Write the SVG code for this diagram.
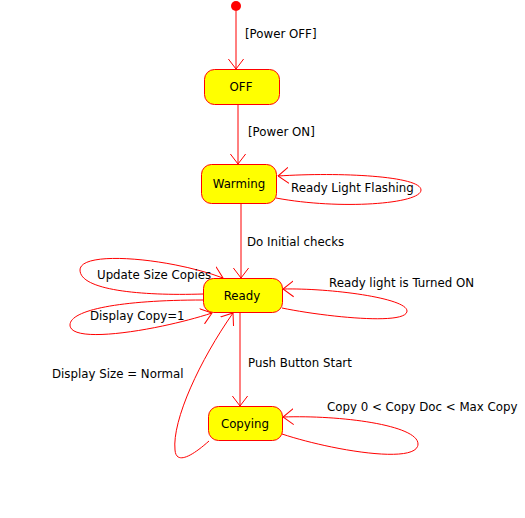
<svg xmlns="http://www.w3.org/2000/svg" width="525" height="518" viewBox="0 0 525 518">
<style>
.node{fill:#ffff00;stroke:#ff0000;stroke-width:1}
.edge{fill:none;stroke:#ff0000;stroke-width:1}
text{font-family:"DejaVu Sans",sans-serif;font-size:11.8px;fill:#000}
.c{text-anchor:middle}
</style>
<defs>
<marker id="arr" markerUnits="userSpaceOnUse" viewBox="0 0 11 18" refX="10.5" refY="9" markerWidth="11" markerHeight="18" orient="auto">
<path d="M0,1 L10.5,9 L0,17" fill="none" stroke="#ff0000" stroke-width="1"/>
</marker>
</defs>
<rect width="525" height="518" fill="#fff"/>
<g id="connectors">
<path class="edge" d="M236,11 L236,69" marker-end="url(#arr)"/>
<path class="edge" d="M238,104 L238,164" marker-end="url(#arr)"/>
<path class="edge" d="M276,198 C340,210 421,204 421,190 C421,176 340,172 278,176" marker-end="url(#arr)"/>
<path class="edge" d="M241,203 L241,278" marker-end="url(#arr)"/>
<path class="edge" d="M282,308 C320,316 407,326 407,311 C407,298 330,288 283,289" marker-end="url(#arr)"/>
<path class="edge" d="M203,294 C140,296 80,290 80,270 C80,250 170,258 223,278" marker-end="url(#arr)"/>
<path class="edge" d="M203,300 C120,300 70,310 70,325 C70,345 160,330 212,313" marker-end="url(#arr)"/>
<path class="edge" d="M240,312 L240,406" marker-end="url(#arr)"/>
<path class="edge" d="M209,441 C190,458 176,464 175,450 C172,420 200,360 233,313" marker-end="url(#arr)"/>
<path class="edge" d="M282,434 C330,450 418,465 418,444 C418,425 340,415 283,417" marker-end="url(#arr)"/>
<text x="245" y="38">[Power OFF]</text>
<text x="248" y="136">[Power ON]</text>
<text x="291" y="192">Ready Light Flashing</text>
<text x="247" y="246">Do Initial checks</text>
<text x="329" y="287">Ready light is Turned ON</text>
<text x="97" y="279">Update Size Copies</text>
<text x="90" y="320">Display Copy=1</text>
<text x="52" y="378">Display Size = Normal</text>
<text x="248" y="367">Push Button Start</text>
<text x="327" y="411">Copy 0 &lt; Copy Doc &lt; Max Copy</text>
</g>
<g id="initial"><circle cx="236" cy="6" r="5" fill="#ff0000"/></g>
<g id="off"><rect class="node" x="204.5" y="69.5" width="75" height="35" rx="10"/><text class="c" x="241" y="91">OFF</text></g>
<g id="warming"><rect class="node" x="201.5" y="164.5" width="75" height="39" rx="10"/><text class="c" x="239" y="188">Warming</text></g>
<g id="ready"><rect class="node" x="203.5" y="278.5" width="79" height="34" rx="10"/><text class="c" x="242" y="300">Ready</text></g>
<g id="copying"><rect class="node" x="208.5" y="406.5" width="74" height="34" rx="10"/><text class="c" x="245" y="428">Copying</text></g>
</svg>
